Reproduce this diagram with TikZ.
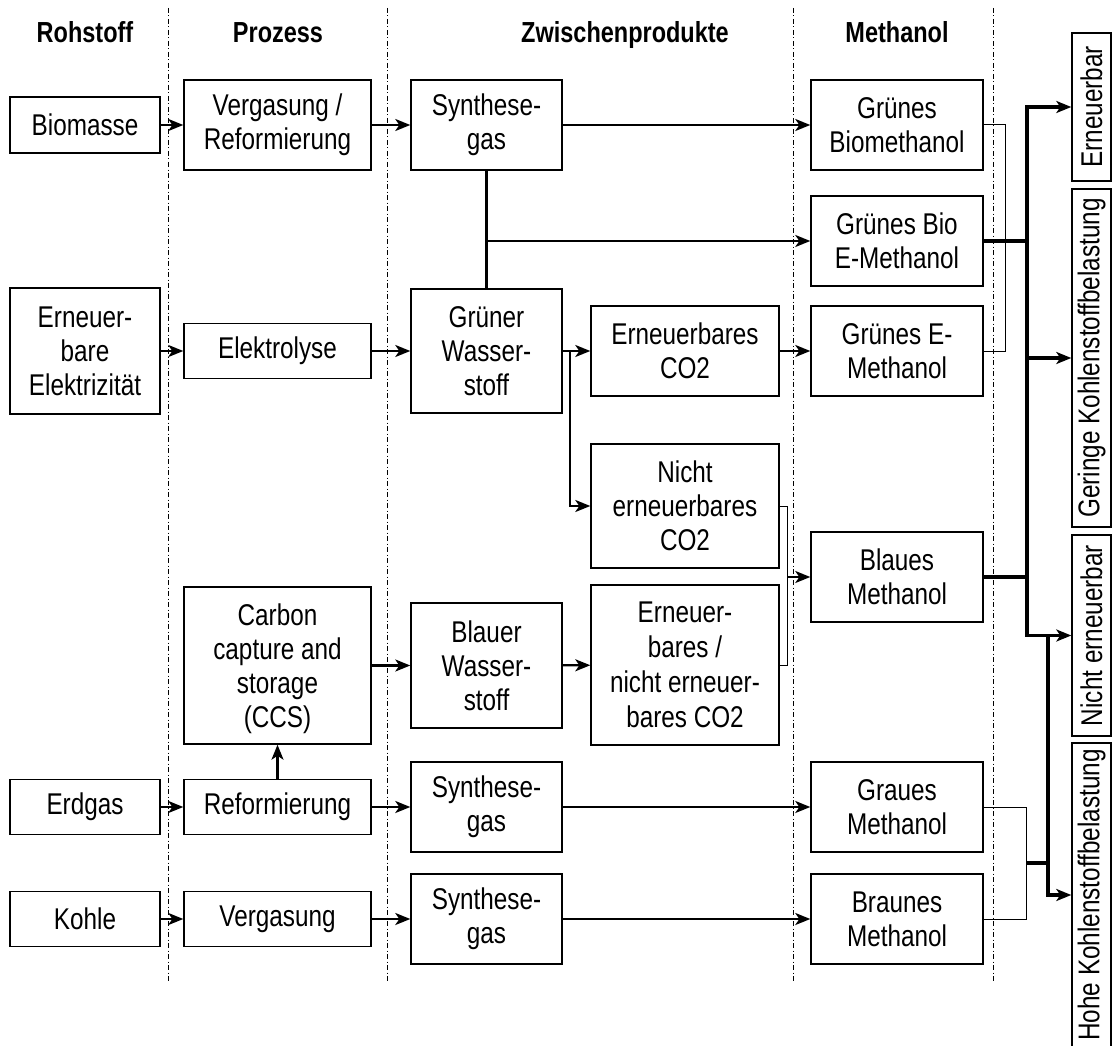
\documentclass[tikz,border=0pt]{standalone}
\usepackage{fontspec}
\setmainfont{Liberation Sans}[FakeStretch=0.81]
\usetikzlibrary{arrows.meta}

\begin{document}
\begin{tikzpicture}[x=1pt,y=-1pt,font=\fontsize{30}{34}\selectfont,
      >={Stealth[length=15pt,width=12pt,inset=4pt]},
      box/.style={draw,line width=1.4pt,align=center,inner sep=0pt},
      cat/.style={box,rotate=90,minimum height=39pt},
      head/.style={anchor=base,font=\fontsize{29}{34}\selectfont\bfseries},
      flow/.style={->,line width=2.2pt},
      link/.style={line width=2.2pt},
      bracket/.style={line width=1pt},
      trunk/.style={line width=3.2pt},
      divider/.style={line width=0.9pt,dash pattern=on 5pt off 2.5pt on 1pt off 2.5pt}]
    \useasboundingbox (0,0) rectangle (1119,1046);

    % column dividers and headings
    \foreach \x in {168,387,793,993}{%
      \draw[divider] (\x,8) -- (\x,982);
    }
    \foreach \n/\x in {Rohstoff/85,Prozess/278,Zwischenprodukte/625,Methanol/897}{%
      \node[head] (head\n) at (\x,43) {\n};
    }

    % raw materials
    \node[box,minimum width=150pt,minimum height=56pt] (biomass) at (85,125) {Biomasse};
    \node[box,minimum width=150pt,minimum height=126pt] (power) at (85,351)
      {Erneuer-\\bare\\Elektrizität};
    \node[box,minimum width=150pt,minimum height=55pt] (natgas) at (85,807) {Erdgas};
    \node[box,minimum width=150pt,minimum height=55pt] (coal) at (85,919) {Kohle};

    % processes
    \node[box,minimum width=187pt,minimum height=90pt] (gasref) at (277.5,125)
      {Vergasung /\\Reformierung};
    \node[box,minimum width=187pt,minimum height=55pt] (electro) at (277.5,351) {Elektrolyse};
    \node[box,minimum width=187pt,minimum height=157pt,text depth=0pt] (ccs) at (277.5,665.5)
      {Carbon\\capture and\\storage\\(CCS)};
    \node[box,minimum width=187pt,minimum height=55pt] (reform) at (277.5,807) {Reformierung};
    \node[box,minimum width=187pt,minimum height=55pt] (gasif) at (277.5,919) {Vergasung};

    % intermediates
    \foreach \n/\y in {syngasA/125,syngasB/807,syngasC/919}{%
      \node[box,minimum width=151pt,minimum height=90pt] (\n) at (486.5,\y) {Synthese-\\gas};
    }
    \node[box,minimum width=151pt,minimum height=124pt] (greenH) at (486.5,351)
      {Grüner\\Wasser-\\stoff};
    \node[box,minimum width=151pt,minimum height=125pt] (blueH) at (486.5,665.5)
      {Blauer\\Wasser-\\stoff};
    \node[box,minimum width=188pt,minimum height=90pt] (renCO) at (685,351)
      {Erneuerbares\\CO2};
    \node[box,minimum width=188pt,minimum height=124pt] (fosCO) at (685,506)
      {Nicht\\erneuerbares\\CO2};
    \node[box,minimum width=188pt,minimum height=160pt,
          font=\fontsize{30}{35}\selectfont] (mixCO) at (685,665)
      {Erneuer-\\bares /\\nicht erneuer-\\bares CO2};

    % methanol types
    \foreach \n/\y/\txt in {mBio/125/{Grünes\\Biomethanol},
                            mBioE/241/{Grünes Bio\\E-Methanol},
                            mE/351/{Grünes E-\\Methanol},
                            mBlue/577/{Blaues\\Methanol},
                            mGrey/807/{Graues\\Methanol},
                            mBrown/919/{Braunes\\Methanol}}{%
      \node[box,minimum width=172pt,minimum height=90pt] (\n) at (897,\y) {\txt};
    }

    % categories
    \node[cat,minimum width=148pt] (ren) at (1091.5,107) {Erneuerbar};
    \node[cat,minimum width=338pt] (low) at (1091.5,358) {Geringe Kohlenstoffbelastung};
    \node[cat,minimum width=201pt] (nonren) at (1091.5,635.5) {Nicht erneuerbar};
    \node[cat,minimum width=304pt] (high) at (1091.5,895) {Hohe Kohlenstoffbelastung};

    % junctions
    \coordinate (splitH) at (570,0);
    \coordinate (joinCO) at (787,0);
    \coordinate (trunkA) at (1027,0);
    \coordinate (trunkB) at (1048,0);
    \coordinate (joinGB) at (1026,863);

    % feed chains
    \draw[flow] (biomass) -- (gasref);
    \draw[flow] (gasref) -- (syngasA);
    \draw[flow] (syngasA) -- (mBio);
    \draw[flow] (power) -- (electro);
    \draw[flow] (electro) -- (greenH);
    \draw[link] (syngasA.south) -- (greenH.north);
    \draw[flow] (syngasA.south |- mBioE.west) -- (mBioE.west);
    \draw[flow] (greenH) -- (renCO);
    \draw[flow] (splitH |- greenH.east) |- (fosCO.west);
    \draw[flow] (renCO) -- (mE);
    \draw[bracket] (fosCO.east) -- ++(8,0) |- (mixCO.east);
    \draw[flow] (joinCO |- mBlue.west) -- (mBlue.west);
    \draw[flow] (natgas) -- (reform);
    \draw[flow] (reform) -- (ccs);
    \draw[flow] (ccs) -- (blueH);
    \draw[flow] (blueH) -- (mixCO);
    \draw[flow] (reform) -- (syngasB);
    \draw[flow] (syngasB) -- (mGrey);
    \draw[flow] (coal) -- (gasif);
    \draw[flow] (gasif) -- (syngasC);
    \draw[flow] (syngasC) -- (mBrown);

    % classification
    \draw[bracket] (mBio.east) -- ++(22,0) |- (mE.east);
    \draw[trunk] (mBioE.east) -- (mBioE.east -| trunkA);
    \draw[trunk] (mBlue.east) -- (mBlue.east -| trunkA);
    \draw[trunk,<->] (ren.north) -| (trunkA |- nonren.north) -- (nonren.north);
    \draw[trunk,->] (trunkA |- low.north) -- (low.north);
    \draw[bracket] (mGrey.east) -- ++(43,0) |- (mBrown.east);
    \draw[trunk] (joinGB) -- (joinGB -| trunkB);
    \draw[trunk,->] (trunkB |- nonren.north) -- (trunkB |- high.north) -- (high.north);
  \end{tikzpicture}
\end{document}
